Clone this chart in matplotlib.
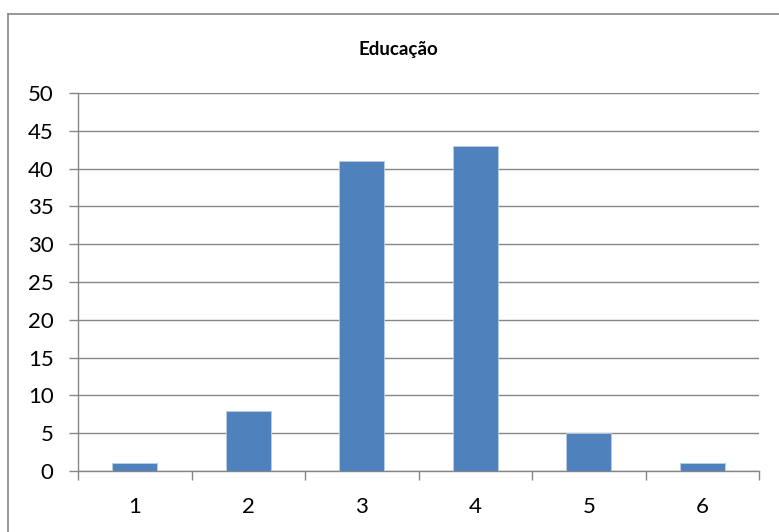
import matplotlib
matplotlib.use("Agg")
import matplotlib.pyplot as plt
from matplotlib.lines import Line2D

categories = ["1", "2", "3", "4", "5", "6"]
values = [1, 8, 41, 43, 5, 1]
yticks = [0, 5, 10, 15, 20, 25, 30, 35, 40, 45, 50]
title = "Educação"

plt.rcParams['font.family'] = ['Lato', 'DejaVu Sans']

W, H = 779, 532
fig = plt.figure(figsize=(W / 100, H / 100), dpi=100)
ax = fig.add_axes([78 / W, (H - 471) / H, (759 - 78) / W, (471 - 93) / H])

x = list(range(len(categories)))
ax.bar(x, values, width=0.4, color="#4F81BD", edgecolor="#B9CDE5", linewidth=0.6, zorder=3)
ax.set_xlim(-0.5, len(categories) - 0.5)
ax.set_ylim(0, 50)
ax.set_yticks(yticks)
ax.set_yticklabels([str(v) for v in yticks], fontsize=16)
ax.set_xticks(x)
ax.set_xticklabels(categories, fontsize=16)
ax.tick_params(axis='x', length=0, pad=19)
ax.tick_params(axis='y', length=6.5, width=1, color="#868686", pad=11)
ax.set_xticks([i - 0.5 for i in range(len(categories) + 1)], minor=True)
ax.tick_params(axis='x', which='minor', length=6.5, width=1, color="#868686", direction='out')

ax.yaxis.grid(True, color="#868686", linewidth=1, zorder=0)
ax.set_axisbelow(True)
for s in ['top', 'right']:
    ax.spines[s].set_visible(False)
for s in ['left', 'bottom']:
    ax.spines[s].set_color("#868686")
    ax.spines[s].set_linewidth(1)

fig.text(398 / W, 1 - 49 / H, title, ha='center', va='center', fontsize=13.5, fontweight='bold')

# outer chart border (left and top visible)
fig.add_artist(Line2D([8 / W, 8 / W], [0, 1 - 14 / H], transform=fig.transFigure, color="#868686", linewidth=1.2))
fig.add_artist(Line2D([8 / W, 1], [1 - 14 / H, 1 - 14 / H], transform=fig.transFigure, color="#868686", linewidth=1.2))

fig.savefig("out.png", dpi=100)
